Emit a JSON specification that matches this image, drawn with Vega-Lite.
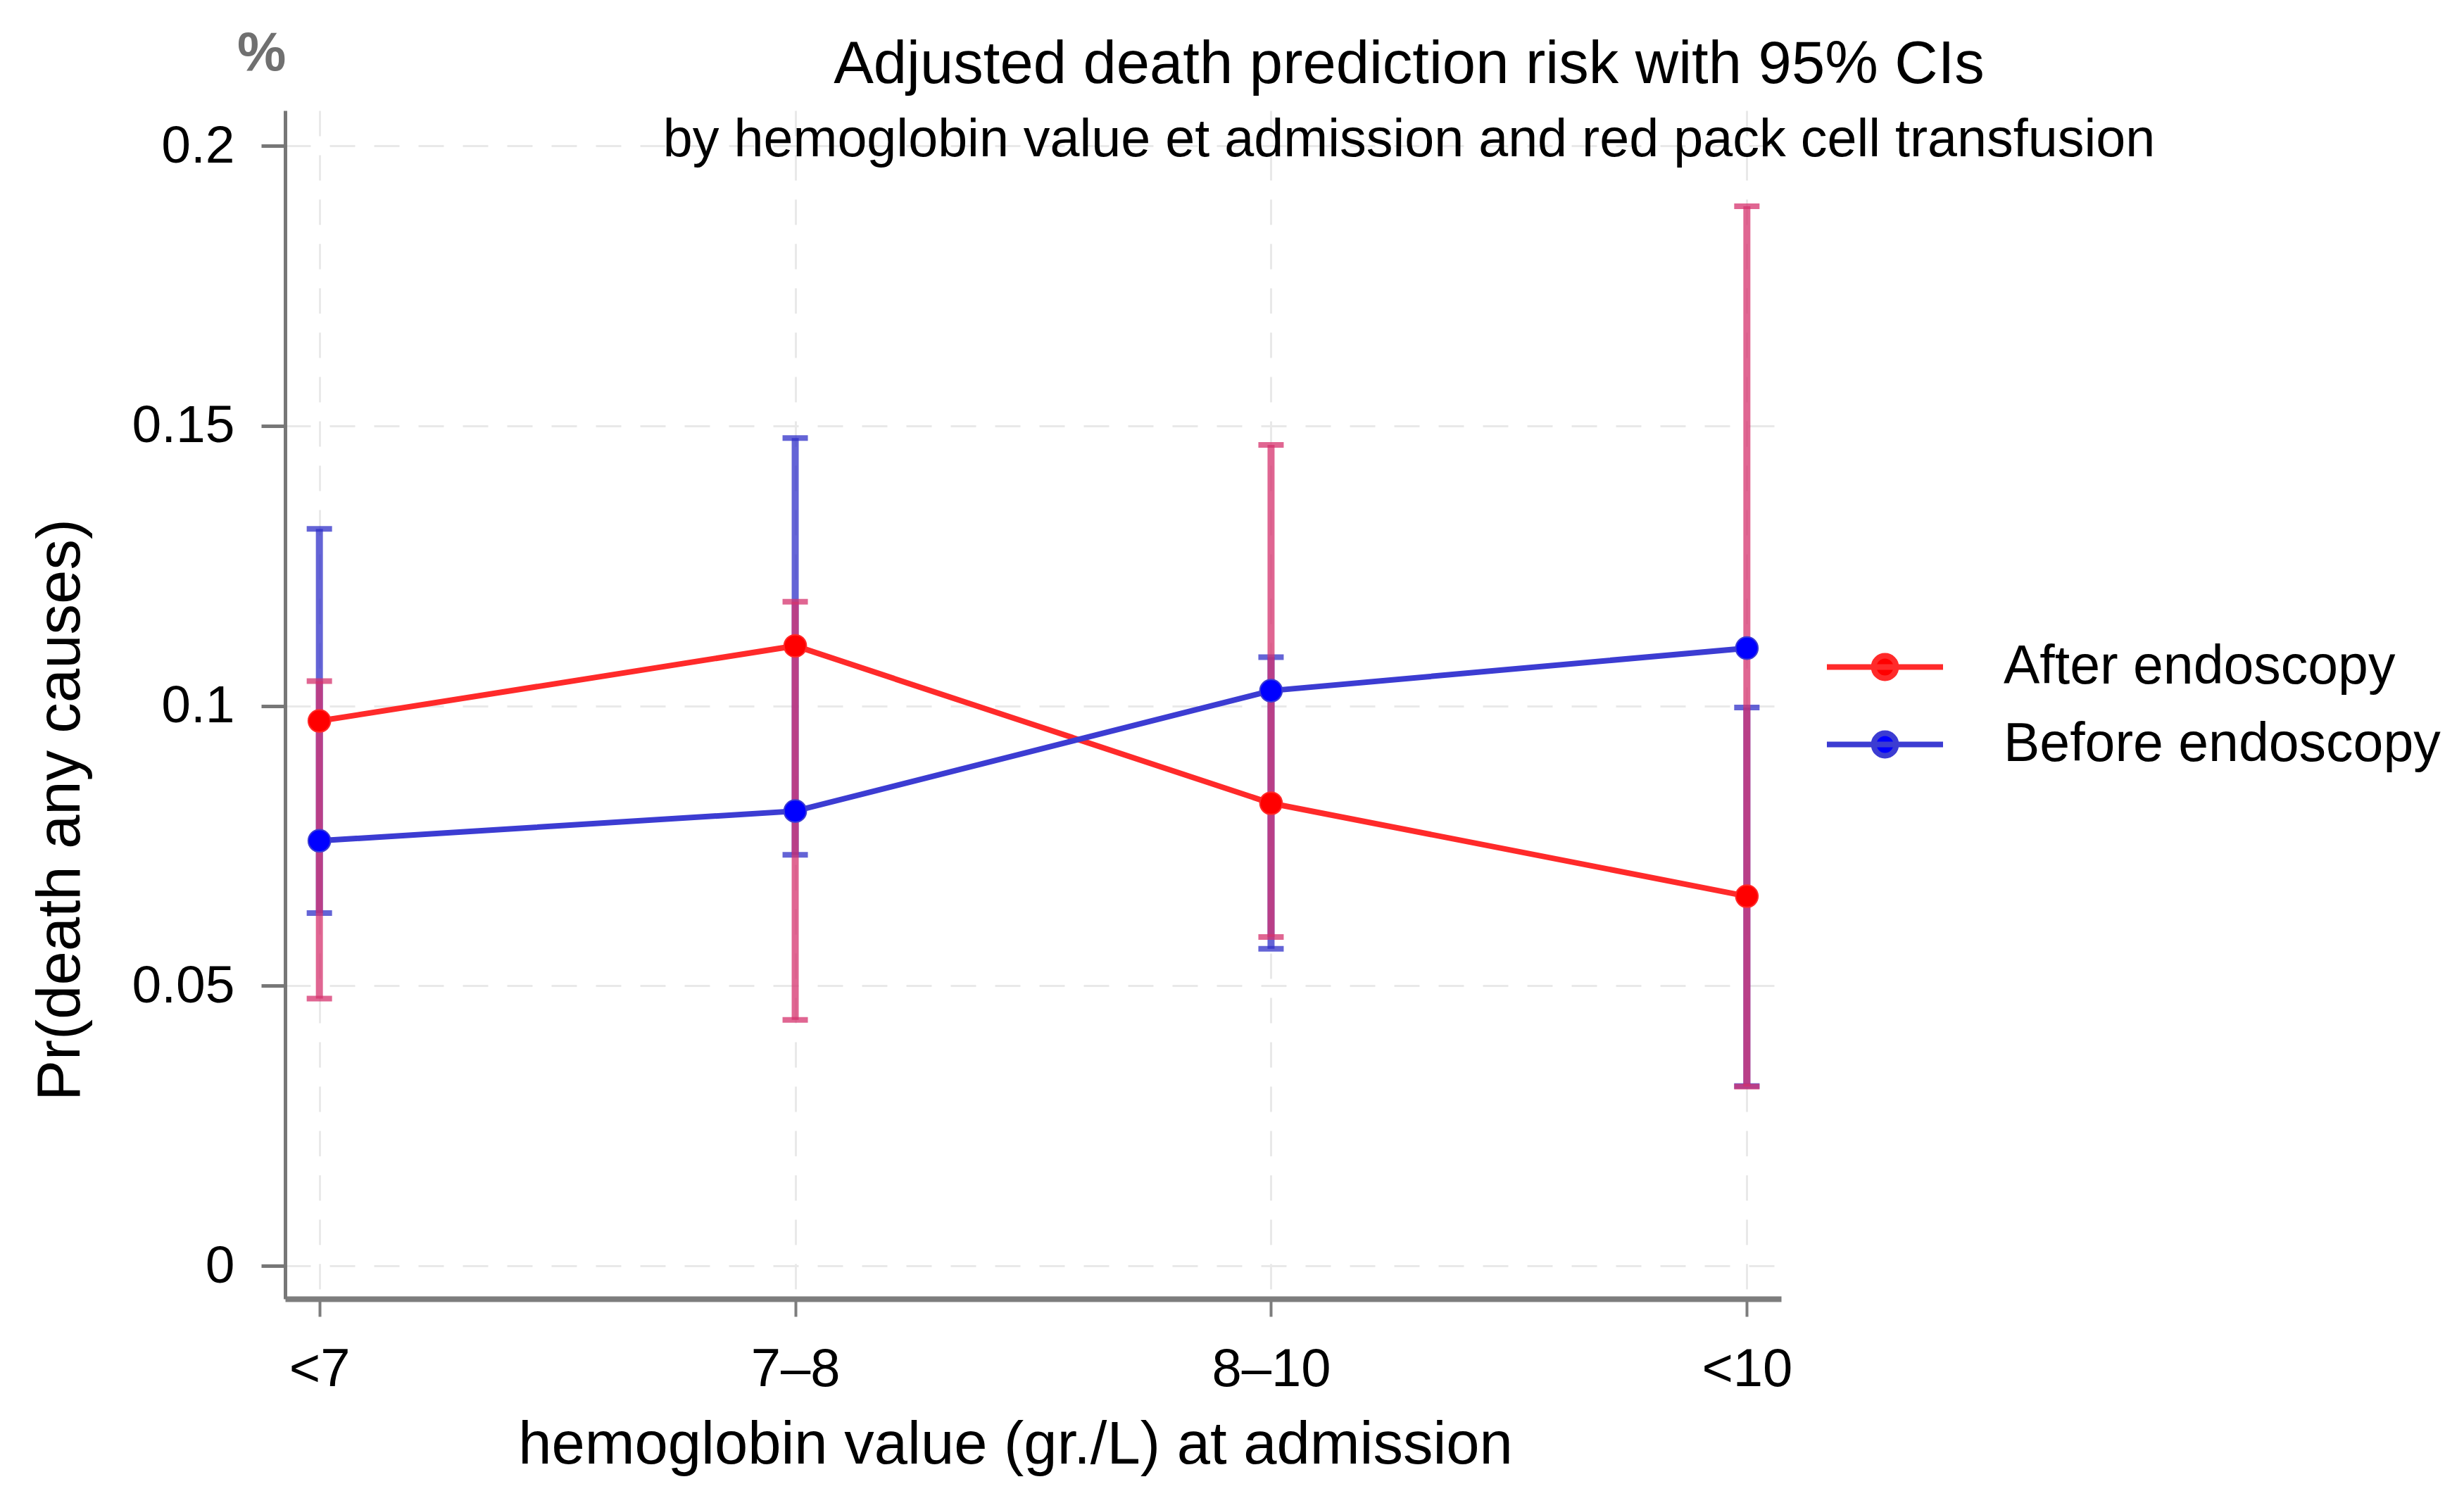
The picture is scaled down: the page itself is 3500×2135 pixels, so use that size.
{
  "$schema": "https://vega.github.io/schema/vega-lite/v6.json",
  "width": 2125,
  "height": 1688,
  "autosize": {"type": "none"},
  "padding": {"left": 405, "top": 157, "right": 970, "bottom": 290},
  "background": "white",
  "config": {"font": "Liberation Sans", "view": {"stroke": null}},
  "title": {
    "text": "Adjusted death prediction risk with 95% CIs",
    "subtitle": "by hemoglobin value et admission and red pack cell transfusion",
    "anchor": "middle",
    "frame": "group",
    "dx": 534,
    "offset": -200,
    "font": "Liberation Sans",
    "fontSize": 85,
    "fontWeight": "normal",
    "color": "black",
    "subtitleFont": "Liberation Sans",
    "subtitleFontSize": 75.5,
    "subtitleColor": "black",
    "subtitlePadding": 26
  },
  "data": {
    "values": [
      {"hb": "<7", "series": "After endoscopy", "p": 0.0973, "lo": 0.0477, "hi": 0.1044},
      {"hb": "<7", "series": "Before endoscopy", "p": 0.0759, "lo": 0.0630, "hi": 0.1316},
      {"hb": "7–8", "series": "After endoscopy", "p": 0.1107, "lo": 0.0439, "hi": 0.1186},
      {"hb": "7–8", "series": "Before endoscopy", "p": 0.0812, "lo": 0.0734, "hi": 0.1478},
      {"hb": "8–10", "series": "After endoscopy", "p": 0.0826, "lo": 0.0587, "hi": 0.1466},
      {"hb": "8–10", "series": "Before endoscopy", "p": 0.1027, "lo": 0.0566, "hi": 0.1087},
      {"hb": "<10", "series": "After endoscopy", "p": 0.0660, "lo": 0.0320, "hi": 0.1892},
      {"hb": "<10", "series": "Before endoscopy", "p": 0.1103, "lo": 0.0321, "hi": 0.0997}
    ]
  },
  "encoding": {
    "x": {
      "field": "hb",
      "type": "ordinal",
      "sort": ["<7", "7–8", "8–10", "<10"],
      "scale": {"type": "point", "domain": ["<7", "7–8", "8–10", "<10"], "padding": 0.072},
      "axis": {
        "title": "hemoglobin value (gr./L) at admission",
        "titleFont": "Liberation Sans",
        "titleFontSize": 85,
        "titleFontWeight": "normal",
        "titleColor": "black",
        "titleX": 1037,
        "titleY": 233,
        "titleBaseline": "alphabetic",
        "titleAlign": "center",
        "labelFontSize": 76,
        "labelColor": "black",
        "labelAngle": 0,
        "labelPadding": 38,
        "tickSize": 25,
        "tickWidth": 4,
        "tickColor": "#7d7d7d",
        "domainColor": "#7d7d7d",
        "domainWidth": 8,
        "grid": true,
        "gridColor": "#e9e9e9",
        "gridWidth": 3,
        "gridDash": [36, 27]
      }
    }
  },
  "layer": [
    {
      "transform": [{"filter": "datum.series === 'Before endoscopy'"}],
      "mark": {"type": "rule", "color": "#3030c8", "opacity": 0.75, "strokeWidth": 10},
      "encoding": {
        "y": {
          "field": "lo",
          "type": "quantitative",
          "scale": {"domain": [-0.0059, 0.2063], "nice": false, "zero": false},
          "axis": {
            "title": "Pr(death any causes)",
            "titleFont": "Liberation Sans",
            "titleFontSize": 87,
            "titleFontWeight": "normal",
            "titleColor": "black",
            "titleX": -293,
            "titleY": 993,
            "titleAngle": 270,
            "titleBaseline": "alphabetic",
            "titleAlign": "center",
            "values": [0, 0.05, 0.1, 0.15, 0.2],
            "format": "~g",
            "labelFontSize": 75,
            "labelColor": "black",
            "labelPadding": 38,
            "tickSize": 34,
            "tickWidth": 5,
            "tickColor": "#777777",
            "domainColor": "#777777",
            "domainWidth": 5,
            "grid": true,
            "gridColor": "#e9e9e9",
            "gridWidth": 3,
            "gridDash": [36, 27]
          }
        },
        "y2": {"field": "hi"}
      }
    },
    {
      "transform": [{"filter": "datum.series === 'Before endoscopy'"}],
      "mark": {"type": "tick", "color": "#3030c8", "opacity": 0.75, "size": 36, "thickness": 8},
      "encoding": {"y": {"field": "lo", "type": "quantitative"}}
    },
    {
      "transform": [{"filter": "datum.series === 'Before endoscopy'"}],
      "mark": {"type": "tick", "color": "#3030c8", "opacity": 0.75, "size": 36, "thickness": 8},
      "encoding": {"y": {"field": "hi", "type": "quantitative"}}
    },
    {
      "transform": [{"filter": "datum.series === 'After endoscopy'"}],
      "mark": {"type": "rule", "color": "#d6336e", "opacity": 0.75, "strokeWidth": 10},
      "encoding": {
        "y": {"field": "lo", "type": "quantitative"},
        "y2": {"field": "hi"}
      }
    },
    {
      "transform": [{"filter": "datum.series === 'After endoscopy'"}],
      "mark": {"type": "tick", "color": "#d6336e", "opacity": 0.75, "size": 36, "thickness": 8},
      "encoding": {"y": {"field": "lo", "type": "quantitative"}}
    },
    {
      "transform": [{"filter": "datum.series === 'After endoscopy'"}],
      "mark": {"type": "tick", "color": "#d6336e", "opacity": 0.75, "size": 36, "thickness": 8},
      "encoding": {"y": {"field": "hi", "type": "quantitative"}}
    },
    {
      "mark": {"type": "line", "strokeWidth": 8},
      "encoding": {
        "y": {"field": "p", "type": "quantitative"},
        "stroke": {
          "field": "series",
          "type": "nominal",
          "scale": {"domain": ["After endoscopy", "Before endoscopy"], "range": ["#ff2a2a", "#3c3cd2"]},
          "legend": {
            "title": null,
            "orient": "none",
            "legendX": 2234,
            "legendY": 752,
            "padding": 0,
            "symbolType": "M-3,0H3M-0.58,0A0.58,0.58 0 1,1 0.58,0A0.58,0.58 0 1,1 -0.58,0Z",
            "symbolSize": 3025,
            "symbolStrokeWidth": 8,
            "labelFont": "Liberation Sans",
            "labelFontSize": 77,
            "labelColor": "black",
            "labelOffset": 130,
            "labelLimit": 2000,
            "rowPadding": 32
          }
        }
      }
    },
    {
      "mark": {"type": "point", "filled": true, "size": 1000, "opacity": 1},
      "encoding": {
        "y": {"field": "p", "type": "quantitative"},
        "fill": {
          "field": "series",
          "type": "nominal",
          "scale": {"domain": ["After endoscopy", "Before endoscopy"], "range": ["#ff0000", "#0000ff"]},
          "legend": {
            "title": null,
            "orient": "none",
            "legendX": 2234,
            "legendY": 752,
            "padding": 0,
            "symbolType": "M-3,0H3M-0.58,0A0.58,0.58 0 1,1 0.58,0A0.58,0.58 0 1,1 -0.58,0Z",
            "symbolSize": 3025,
            "symbolStrokeWidth": 8,
            "labelFont": "Liberation Sans",
            "labelFontSize": 77,
            "labelColor": "black",
            "labelOffset": 130,
            "labelLimit": 2000,
            "rowPadding": 32
          }
        },
        "stroke": {"field": "series", "type": "nominal"}
      }
    },
    {
      "data": {"values": [{"t": "%"}]},
      "mark": {"type": "text", "fontSize": 78, "fontWeight": "bold", "color": "#707070", "dx": -82, "align": "center", "baseline": "middle", "font": "Liberation Sans"},
      "encoding": {
        "x": {"datum": "<7"},
        "y": {"datum": 0.2163},
        "text": {"field": "t"}
      }
    }
  ]
}
